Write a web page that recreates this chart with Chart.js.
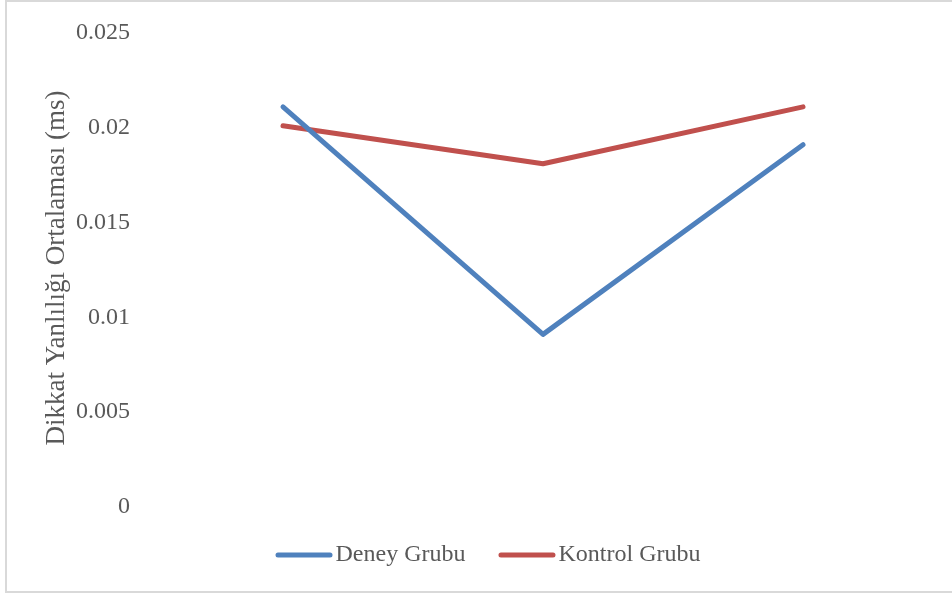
<!DOCTYPE html>
<html>
<head>
<meta charset="utf-8">
<script src="https://cdn.jsdelivr.net/npm/chart.js@4/dist/chart.umd.min.js"></script>
<style>
  html, body { margin: 0; padding: 0; background: #ffffff; }
  #frame {
    position: absolute; left: 5px; top: 0; width: 1000px; height: 593px;
    box-sizing: border-box; border: 2px solid #d9d9d9;
  }
  #chart { position: absolute; left: 0; top: 0; }
</style>
</head>
<body>
<div id="frame"></div>
<canvas id="chart" width="952" height="594"></canvas>
<script>
// Measurement points (x categories are not labelled on the axis)
const categories = ['1', '2', '3'];
const deneyGrubu = [0.021, 0.009, 0.019];
const kontrolGrubu = [0.020, 0.018, 0.021];
const yTickLabels = ['0', '0.005', '0.01', '0.015', '0.02', '0.025'];
const seriesNames = ['Deney Grubu', 'Kontrol Grubu'];
const yTitle = 'Dikkat Yanlılığı Ortalaması (ms)';

const textColor = '#595959';
const serif = "'Liberation Serif', 'Times New Roman', serif";

function lineSeries(label, data, color) {
  return {
    label, data,
    borderColor: color, backgroundColor: color,
    borderWidth: 5, borderCapStyle: 'round', borderJoinStyle: 'round',
    pointRadius: 0, pointHoverRadius: 0, tension: 0
  };
}

// Legend drawn below the plot: a short line sample followed by the series name
const lineLegend = {
  id: 'lineLegend',
  afterDraw(chart, args, opts) {
    const ctx = chart.ctx;
    const items = chart.data.datasets.map(ds => ({ text: ds.label, color: ds.borderColor, width: ds.borderWidth }));
    ctx.save();
    ctx.font = opts.fontSize + 'px ' + serif;
    const widths = items.map(it => opts.sample + opts.gap + ctx.measureText(it.text).width);
    const total = widths.reduce((a, b) => a + b, 0) + opts.spacing * (items.length - 1);
    let x = opts.centerX - total / 2;
    const y = opts.centerY;
    items.forEach((it, i) => {
      ctx.strokeStyle = it.color;
      ctx.lineWidth = it.width;
      ctx.lineCap = 'round';
      ctx.beginPath();
      ctx.moveTo(x + it.width / 2, y);
      ctx.lineTo(x + opts.sample - it.width / 2, y);
      ctx.stroke();
      ctx.fillStyle = textColor;
      ctx.textBaseline = 'middle';
      ctx.textAlign = 'left';
      ctx.fillText(it.text, x + opts.sample + opts.gap, y);
      x += widths[i] + opts.spacing;
    });
    ctx.restore();
  }
};

new Chart(document.getElementById('chart'), {
  type: 'line',
  data: {
    labels: categories,
    datasets: [
      lineSeries(seriesNames[0], deneyGrubu, '#4f81bd'),
      lineSeries(seriesNames[1], kontrolGrubu, '#c0504d')
    ]
  },
  plugins: [lineLegend],
  options: {
    responsive: false,
    animation: false,
    events: [],
    layout: { padding: { left: 0, right: 19, top: 31, bottom: 79 } },
    plugins: {
      tooltip: { enabled: false },
      legend: { display: false },
      lineLegend: { centerX: 488, centerY: 555, sample: 57, gap: 3, spacing: 33, fontSize: 24 }
    },
    scales: {
      x: {
        offset: true,
        grid: { display: false, drawTicks: false },
        border: { display: false },
        ticks: { display: false },
        afterFit: s => { s.height = 10; }
      },
      y: {
        min: 0, max: 0.025,
        grid: { display: false, drawTicks: false },
        border: { display: false },
        afterFit: s => { s.width = 153; s.paddingTop = 0; s.paddingBottom = 0; },
        ticks: {
          stepSize: 0.005,
          padding: 23,
          labelOffset: 2,
          color: textColor,
          font: { family: serif, size: 24 },
          callback: (v, i) => yTickLabels[i]
        },
        title: {
          display: true,
          text: yTitle,
          color: textColor,
          font: { family: serif, size: 27 },
          padding: { top: 41, bottom: 0 }
        }
      }
    }
  }
});
</script>
</body>
</html>
